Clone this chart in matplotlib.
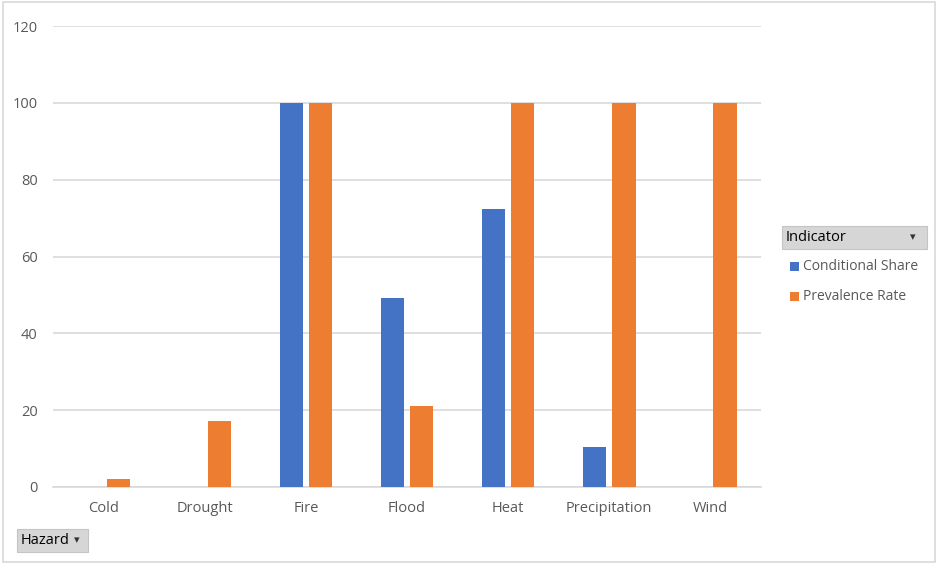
import numpy as np
import matplotlib
matplotlib.use("Agg")
import matplotlib.pyplot as plt
from matplotlib.patches import Rectangle

plt.rcParams['font.family'] = ['Open Sans', 'DejaVu Sans']

# hazard categories and the two indicators
hazards = ['Cold', 'Drought', 'Fire', 'Flood', 'Heat', 'Precipitation', 'Wind']
conditional_share = [0, 0, 100, 49.2, 72.4, 10.3, 0]
prevalence_rate = [2.0, 17.3, 100, 21.1, 100, 100, 100]
series_names = ['Conditional Share', 'Prevalence Rate']
colors = ['#4472C4', '#ED7D31']
yticks = [0, 20, 40, 60, 80, 100, 120]

fig = plt.figure(figsize=(9.38, 5.64), dpi=100)
ax = fig.add_axes([53/938, 1-487/564, 708/938, 461/564])

x = np.arange(len(hazards))
w = 0.23
off = 0.145
ax.bar(x - off, conditional_share, w, color=colors[0], zorder=3)
ax.bar(x + off, prevalence_rate, w, color=colors[1], zorder=3)

ax.set_xlim(-0.5, len(hazards) - 0.5)
ax.set_ylim(0, 120)
ax.set_yticks(yticks)
ax.set_xticks(x)
ax.set_xticklabels(hazards)
ax.grid(axis='y', color='#d9d9d9', linewidth=1.2, zorder=0)
for s in ['top', 'right', 'left']:
    ax.spines[s].set_visible(False)
ax.spines['bottom'].set_color('#d9d9d9')
ax.spines['bottom'].set_linewidth(1.2)
ax.tick_params(length=0, labelsize=10.5, labelcolor='#595959')
ax.tick_params(axis='x', pad=10)
ax.tick_params(axis='y', pad=11)

# outer chart border
fig.patches.append(Rectangle((3/938, 2/564), 932/938, 560/564, transform=fig.transFigure,
                             fill=False, edgecolor='#d9d9d9', linewidth=1.2))

# field buttons
def field_button(x0, y0, w0, h0, label, arrow_x):
    fig.patches.append(Rectangle((x0/938, 1-(y0+h0)/564), w0/938, h0/564,
                                 transform=fig.transFigure, facecolor='#d6d6d6',
                                 edgecolor='#c4c4c4', linewidth=0.8))
    fig.text((x0+4)/938, 1-(y0+h0/2)/564, label, fontsize=10.5, color='black',
             va='center', ha='left')
    fig.text(arrow_x/938, 1-(y0+h0/2)/564, '\u25BE', fontsize=8, color='#333333',
             va='center', ha='center', family='DejaVu Sans')

field_button(782, 226, 145, 23, 'Indicator', 913)
field_button(17, 529, 71, 23, 'Hazard', 77)

# legend entries
for i, name in enumerate(series_names):
    yc = 1 - (266 + 30*i)/564
    fig.patches.append(Rectangle((790/938, yc - 4.5/564), 9/938, 9/564,
                                 transform=fig.transFigure, facecolor=colors[i],
                                 edgecolor='none'))
    fig.text(803/938, yc, name, fontsize=10, color='#595959', va='center', ha='left')

fig.savefig('out.png', dpi=100)
